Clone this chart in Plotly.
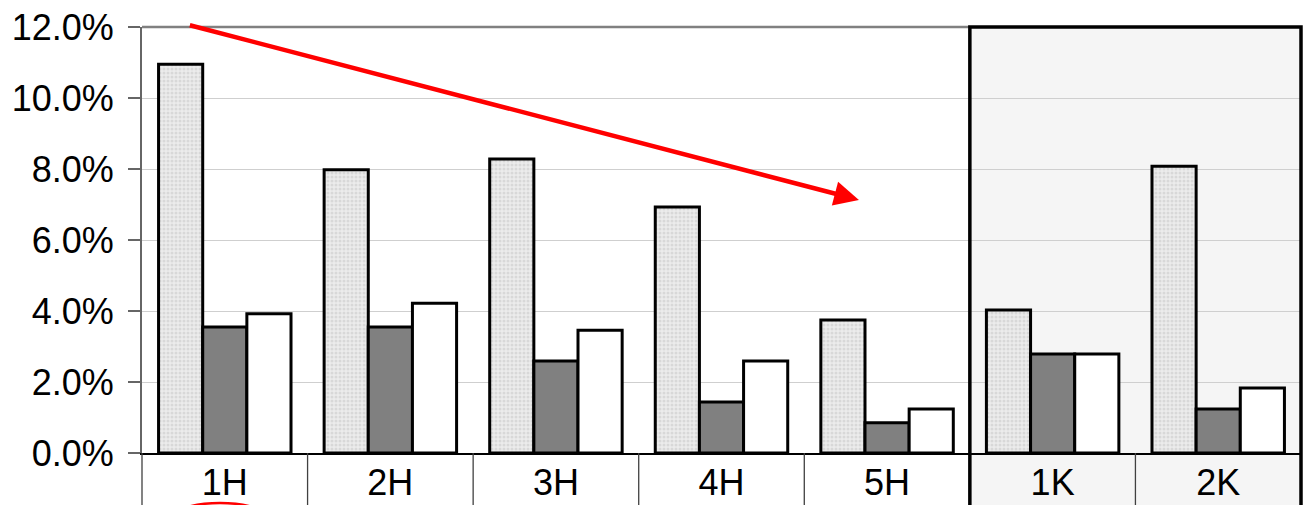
import plotly.graph_objects as go

# Category groups and the three series (percent)
categories = ["1H", "2H", "3H", "4H", "5H", "1K", "2K"]
series_light = [10.95, 7.98, 8.28, 6.93, 3.75, 4.03, 8.08]
series_dark = [3.55, 3.55, 2.59, 1.44, 0.85, 2.79, 1.24]
series_white = [3.92, 4.22, 3.46, 2.59, 1.24, 2.79, 1.83]
y_ticks = [0, 2, 4, 6, 8, 10, 12]

# Trend arrow endpoints (category index, percent)
arrow_tail = (-0.22, 12.06)
arrow_head = (3.83, 7.13)

W, H = 1303, 505
ML, MR, MT, MB = 142, 2, 27, 52
plot_h = H - MT - MB
plot_w = W - ML - MR
n = len(categories)
highlight_from = categories.index("1K")  # first category of the shaded block

FONT = "Liberation Sans, Arial, sans-serif"
outline = dict(color="black", width=3)


def px_to_paper_y(py):
    return (MT + plot_h - py) / plot_h


def px_to_paper_x(px):
    return (px - ML) / plot_w


fig = go.Figure()
fig.add_trace(go.Bar(
    x=categories, y=series_light, name="A",
    marker=dict(color="#e2e2e2", line=outline,
                pattern=dict(shape=".", size=4, solidity=0.45,
                             fgcolor="#c4c4c4", bgcolor="#ececec")),
))
fig.add_trace(go.Bar(
    x=categories, y=series_dark, name="B",
    marker=dict(color="#808080", line=outline),
))
fig.add_trace(go.Bar(
    x=categories, y=series_white, name="C",
    marker=dict(color="#ffffff", line=outline),
))

below = -MB / plot_h - 0.05
shapes = []
# shaded block behind the last categories
shapes.append(dict(type="rect", xref="paper", yref="paper",
                   x0=highlight_from / n, x1=1, y0=below, y1=1,
                   fillcolor="#f5f5f5", line=dict(width=0), layer="below"))
# top frame line over the unshaded part
shapes.append(dict(type="line", xref="paper", yref="paper",
                   x0=0, x1=highlight_from / n, y0=1, y1=1,
                   line=dict(color="#808080", width=2.5), layer="above"))
# category separators under the axis
for i in range(n + 1):
    if i == highlight_from:
        continue
    shapes.append(dict(type="line", xref="paper", yref="paper",
                       x0=i / n, x1=i / n, y0=0, y1=-MB / plot_h - 0.01,
                       line=dict(color="#404040", width=1.3), layer="above"))
# heavy border of the shaded block
shapes.append(dict(type="rect", xref="paper", yref="paper",
                   x0=highlight_from / n, x1=1, y0=below, y1=1,
                   fillcolor="rgba(0,0,0,0)",
                   line=dict(color="black", width=3.5), layer="above"))
# red ring around the first label (mostly below the view)
shapes.append(dict(type="circle", xref="paper", yref="paper",
                   x0=px_to_paper_x(220 - 55), x1=px_to_paper_x(220 + 55),
                   y0=px_to_paper_y(545), y1=px_to_paper_y(503),
                   line=dict(color="red", width=2.5), layer="above"))

fig.update_layout(
    width=W, height=H,
    margin=dict(l=ML, r=MR, t=MT, b=MB, autoexpand=False),
    paper_bgcolor="white", plot_bgcolor="white",
    barmode="group", bargap=0.2, bargroupgap=0,
    showlegend=False,
    font=dict(family=FONT, color="black", size=36),
    shapes=shapes,
    annotations=[dict(
        x=arrow_head[0], y=arrow_head[1], xref="x", yref="y",
        ax=arrow_tail[0], ay=arrow_tail[1], axref="x", ayref="y",
        text="", showarrow=True, arrowhead=2, arrowsize=1.1,
        arrowwidth=4.5, arrowcolor="#ff0000", standoff=0,
    )],
)
fig.update_xaxes(
    range=[-0.5, n - 0.5], showgrid=False, ticks="", automargin=False,
    showline=True, linecolor="black", linewidth=2,
    tickfont=dict(size=36, family=FONT, color="black"),
    ticklabelstandoff=-3,
)
fig.update_yaxes(
    range=[0, 12], tickvals=y_ticks, automargin=False,
    ticktext=[f"{v:.1f}%" for v in y_ticks],
    showgrid=True, gridcolor="#cfcfcf", gridwidth=1,
    zeroline=False, showline=True, linecolor="#666666", linewidth=2,
    ticks="outside", ticklen=12, tickcolor="#666666", tickwidth=1.5,
    tickfont=dict(size=36, family=FONT, color="black"),
    ticklabelstandoff=7,
)

fig.write_html("out.html")
